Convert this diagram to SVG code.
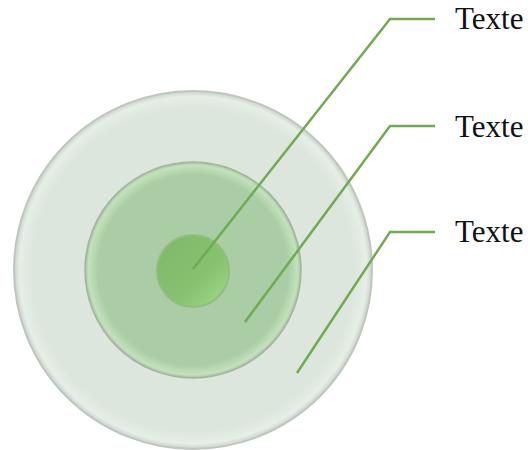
<svg xmlns="http://www.w3.org/2000/svg" width="528" height="450" viewBox="0 0 528 450">
<style>
.lbl{font-family:"Liberation Serif","Times New Roman",serif;font-size:31px;fill:#111}
.conn{fill:none;stroke:#6fac4f;stroke-width:2.5;stroke-linejoin:miter}
</style>
<defs>
<radialGradient id="gOuter" cx="0.5" cy="0.5" r="0.5">
<stop offset="0.9" stop-color="#dce6dd"/>
<stop offset="0.97" stop-color="#e6eee6"/>
<stop offset="1" stop-color="#c9d3ca"/>
</radialGradient>
<radialGradient id="gMid" cx="0.5" cy="0.5" r="0.5">
<stop offset="0.88" stop-color="#abcda5"/>
<stop offset="0.97" stop-color="#c2e2ba"/>
<stop offset="1" stop-color="#a3bd9f"/>
</radialGradient>
<linearGradient id="gIn" x1="0" y1="0" x2="1" y2="1">
<stop offset="0" stop-color="#7db868"/>
<stop offset="0.6" stop-color="#86c270"/>
<stop offset="1" stop-color="#a5dc8c"/>
</linearGradient>
</defs>
<g id="ring-outer">
<circle cx="193" cy="270" r="179" fill="url(#gOuter)" stroke="#bfc6bf" stroke-width="2"/>
</g>
<g id="ring-middle">
<circle cx="193" cy="270" r="108" fill="url(#gMid)" stroke="#a3b5a0" stroke-width="1.5"/>
</g>
<g id="ring-inner">
<circle cx="193" cy="271" r="36" fill="url(#gIn)" stroke="#8fbf7e" stroke-width="2"/>
</g>
<g id="connectors">
<polyline class="conn" points="193,269 390,19 435,19"/>
<polyline class="conn" points="245,322 390,126 435,126"/>
<polyline class="conn" points="297,373 390,232 435,232"/>
</g>
<g id="label-1"><text class="lbl" x="455" y="29">Texte</text></g>
<g id="label-2"><text class="lbl" x="455" y="137">Texte</text></g>
<g id="label-3"><text class="lbl" x="455" y="242">Texte</text></g>
</svg>
